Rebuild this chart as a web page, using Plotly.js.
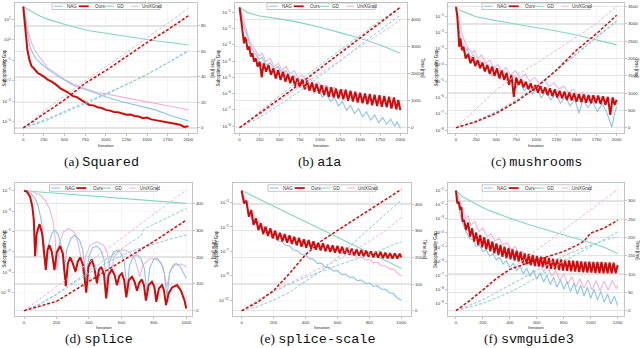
<!DOCTYPE html>
<html><head><meta charset="utf-8">
<script src="https://cdn.plot.ly/plotly-3.0.1.min.js"></script>
<style>html,body{margin:0;padding:0;background:#fff}#chart{width:640px;height:348px}</style>
</head><body><div id="chart"></div>
<script>
// ---------------- DATA ----------------
const methods = ['NAG', 'Ours', 'GD', 'UniXGrad'];
const captionTags = ['(a)', '(b)', '(c)', '(d)', '(e)', '(f)'];
const captionNames = ['Squared', 'a1a', 'mushrooms', 'splice', 'splice-scale', 'svmguide3'];

// (a) Squared
const aOursIt = [0,10,25,50,75,100,125,150,175,200,250,300,350,400,450,500,550,600,650,700,750,800,850,900,950,1000,1050,1100,1150,1200,1250,1300,1350,1400,1450,1500,1550,1600,1650,1700,1750,1800,1850,1900,1950,2000];
const aOursGap = [41.7,16,2.5,0.32,0.105,0.052,0.042,0.032,0.024,0.021,0.016,0.011,8.9e-3,6.3e-3,4.2e-3,3.3e-3,2.6e-3,1.8e-3,1.6e-3,1.17e-3,8.9e-4,6.6e-4,6.3e-4,5.1e-4,4.7e-4,3.8e-4,3.5e-4,3e-4,2.9e-4,2.6e-4,2.2e-4,2.24e-4,1.9e-4,1.8e-4,1.5e-4,1.6e-4,1.3e-4,1.2e-4,1.1e-4,1.02e-4,9.5e-5,9.1e-5,7.9e-5,7.1e-5,5.6e-5,6e-5];
const aGapIt = [0,10,25,50,75,100,150,200,250,300,400,500,600,700,800,900,1000,1200,1400,1600,1800,2000];
const aNagGap = [41.7,23.4,8.5,1.74,0.56,0.3,0.126,0.078,0.052,0.036,0.019,0.011,0.0063,0.0043,0.0033,0.0023,0.0016,9.5e-4,5.9e-4,3.8e-4,1.9e-4,1.1e-4];
const aUniGap = [41.7,28.8,13.5,3.6,1.41,0.72,0.26,0.14,0.071,0.041,0.023,0.0117,0.0071,0.0048,0.0035,0.0026,0.0023,0.0016,0.00117,7.9e-4,5.5e-4,3.8e-4];
const aGdIt = [0,100,200,300,400,500,600,800,1000,1200,1400,1600,1800,2000];
const aGdGap = [41.7,23.6,14.6,10,7.4,5.7,4.4,2.8,2.1,1.55,1.15,0.91,0.72,0.56];
const aTimeIt = [0,250,500,750,1000,1250,1500,1750,2000];
const aNagTime = [0,6,13,20,27,34,42,51,61];
const aOursTime = [0,11,22,35,45,56,67,77,88];
const aGdTime = [0,5,12,19,26,34,42,51,60];
const aUniTime = [0,13,25,37,48,59,71,82,94];
const aYTickExp = [1,0,-1,-2,-3,-4];

// (b) a1a
const bOursIt = [0,20,40,55,65,80,100,120,140,160,180,200,225,250,275,300,330,360,390,420,450,480,510,540,570,600,630,660,690,720,750,780,810,840,870,900,930,960,990,1020,1050,1080,1110,1140,1170,1200,1230,1260,1290,1320,1350,1380,1410,1440,1470,1500,1530,1560,1590,1620,1650,1680,1710,1740,1770,1800,1830,1860,1890,1920,1950,1975,2000];
const bOursGap = [0.2,0.034,3.2e-3,1.2e-3,2.9e-3,2e-3,4.8e-4,7.8e-4,1.9e-4,3e-4,9.1e-5,1.5e-4,4.5e-5,9.1e-5,1e-5,7.2e-5,2.2e-5,5.8e-5,1.4e-5,3.5e-5,8.5e-6,2.8e-5,6.8e-6,2.2e-5,5.4e-6,1.6e-5,4.3e-6,1.2e-5,2.9e-6,8.5e-6,2.4e-6,7.4e-6,1.8e-6,6.2e-6,1.5e-6,4.7e-6,1.3e-6,3.9e-6,1e-6,3.3e-6,8.1e-7,2.6e-6,6.3e-7,2.4e-6,5.8e-7,2e-6,5e-7,1.8e-6,4.4e-7,1.7e-6,3.6e-7,1.5e-6,3.2e-7,1.3e-6,2.8e-7,1.1e-6,2.5e-7,1e-6,2.2e-7,9.3e-7,1.9e-7,8.5e-7,1.7e-7,7.8e-7,1.5e-7,7.1e-7,1.4e-7,6.3e-7,1.2e-7,5.8e-7,1.05e-7,4e-7,9.5e-8];
const bNagIt = [0,20,40,70,100,130,160,200,240,280,330,380,430,480,530,580,630,680,730,780,830,880,930,980,1030,1080,1130,1180,1230,1280,1330,1380,1430,1480,1530,1580,1630,1680,1730,1780,1830,1880,1930,1960,2000];
const bNagGap = [0.2,0.069,0.021,8.1e-3,2.5e-3,9.8e-4,4.8e-4,2.7e-4,1.26e-4,1.7e-4,5.8e-5,7.9e-5,3.1e-5,4.5e-5,1.6e-5,2.6e-5,8.5e-6,1.3e-5,4.3e-6,6.8e-6,2e-6,3.3e-6,1e-6,1.8e-6,5.8e-7,1e-6,3.2e-7,5.8e-7,1.7e-7,3.2e-7,9.5e-8,1.9e-7,6e-8,1.2e-7,3.7e-8,7.6e-8,2.3e-8,4.8e-8,1.6e-8,3.4e-8,1.3e-8,2.6e-8,1e-8,1.8e-8,7.1e-9];
const bUniIt = [0,20,40,70,100,130,160,200,240,280,330,380,430,480,530,580,630,680,730,780,830,880,930,980,1030,1080,1130,1180,1230,1280,1330,1380,1430,1480,1530,1580,1630,1680,1730,1780,1830,1880,1930,1980,2000];
const bUniGap = [0.2,0.11,0.043,0.013,4e-3,1.55e-3,7.8e-4,4.4e-4,2e-4,3e-4,9.1e-5,1.5e-4,4.5e-5,7.2e-5,2.6e-5,4.5e-5,1.6e-5,2.6e-5,8.5e-6,1.4e-5,5.4e-6,8.1e-6,3.3e-6,5.1e-6,2.4e-6,3.3e-6,1.7e-6,2.4e-6,1.2e-6,1.7e-6,8.5e-7,1.2e-6,6.3e-7,8.9e-7,4.8e-7,6.6e-7,3.6e-7,5e-7,2.8e-7,4e-7,2.2e-7,3.2e-7,1.9e-7,2.6e-7,2e-7];
const bGdIt = [0,100,250,500,750,1000,1250,1500,1750,2000];
const bGdGap = [0.2,0.095,0.059,0.039,0.023,0.012,0.0056,0.0025,9.8e-4,3e-4];
const bTimeIt = [0,250,500,750,1000,1250,1500,1750,2000];
const bNagTime = [0,600,1180,1750,2300,2850,3400,3950,4450];
const bOursTime = [0,520,1070,1620,2180,2750,3300,3870,4440];
const bGdTime = [0,380,850,1350,1900,2450,3050,3600,4150];
const bUniTime = [0,480,1000,1500,2000,2480,2980,3480,3970];
const bYTickExp = [-1,-2,-3,-4,-5,-6,-7,-8];

// (c) mushrooms
const cOursIt = [0,15,30,40,55,75,95,120,150,180,210,240,270,300,330,360,390,420,450,480,510,540,570,600,630,660,690,720,750,780,810,840,870,900,930,960,990,1020,1050,1080,1110,1140,1170,1200,1230,1260,1290,1320,1350,1380,1410,1440,1470,1500,1530,1560,1590,1620,1650,1680,1710,1740,1770,1800,1830,1860,1890,1920,1950,1975,2000];
const cOursGap = [0.37,0.115,0.011,1.3e-3,4.3e-3,8.1e-4,1.3e-3,2.5e-4,4.7e-4,1.26e-4,2.9e-4,8.5e-5,2e-4,6.2e-5,1.4e-4,4e-5,1e-4,2.8e-5,7.8e-5,2.1e-5,6.2e-5,1.5e-5,4.5e-5,1.2e-5,3.3e-5,5.9e-6,2.4e-5,1.1e-6,1.7e-5,5.9e-6,1.3e-5,4.2e-6,9.3e-6,3.2e-6,7.4e-6,2.6e-6,5.9e-6,2e-6,5.1e-6,1.8e-6,4.2e-6,1.4e-6,3.6e-6,1.2e-6,3.2e-6,1e-6,2.6e-6,8.9e-7,2.3e-6,7.1e-7,2e-6,6.5e-7,1.8e-6,5.5e-7,1.6e-6,5.2e-7,1.5e-6,4.8e-7,1.4e-6,4.4e-7,1.35e-6,4.4e-7,1.3e-6,4e-7,1.2e-6,3.5e-7,1.1e-6,8.5e-8,1e-6,3.5e-7,7.1e-7];
const cNagIt = [0,15,30,50,80,110,140,180,220,260,300,350,400,450,500,550,600,650,700,750,800,850,900,950,1000,1060,1120,1180,1240,1300,1360,1420,1480,1530,1580,1640,1700,1760,1820,1880,1940,1970,2000];
const cNagGap = [0.37,0.145,0.035,5.4e-3,8.1e-4,5.6e-4,1.05e-3,2.9e-4,4.1e-4,9.8e-5,1.7e-4,4.5e-5,7.8e-5,2.1e-5,4.5e-5,1.3e-5,2.4e-5,7.4e-6,1.3e-5,4.2e-6,8.1e-6,2.6e-6,5.1e-6,1.6e-6,3.5e-6,1e-6,2.3e-6,7.1e-7,1.6e-6,4.4e-7,1.1e-6,3e-7,7.8e-7,1.1e-7,7.1e-7,2.5e-7,5.5e-7,1.35e-7,4.4e-7,1.1e-7,1.5e-8,8.5e-8,2.8e-7];
const cUniIt = [0,15,30,50,80,110,140,170,200,230,270,320,370,420,470,520,570,620,680,740,800,860,920,980,1040,1100,1160,1220,1280,1340,1400,1460,1520,1580,1640,1700,1760,1820,1880,1940,2000];
const cUniGap = [0.37,0.21,0.091,0.028,6.8e-3,2.7e-3,1.3e-3,8.1e-4,5.1e-4,8.1e-4,2.5e-4,4.1e-4,1.26e-4,2e-4,6.2e-5,1.07e-4,3.8e-5,6.8e-5,2.4e-5,4.5e-5,1.5e-5,2.8e-5,9.3e-6,1.7e-5,6.8e-6,1.2e-5,4.6e-6,8.1e-6,3.2e-6,5.1e-6,2e-6,3.2e-6,1.2e-6,2e-6,8.9e-7,1.4e-6,7.1e-7,1.1e-6,5.5e-7,8.9e-7,7.1e-7];
const cGdIt = [0,50,100,250,500,750,1000,1250,1500,1750,2000];
const cGdGap = [0.34,0.23,0.18,0.091,0.052,0.032,0.02,0.012,6.8e-3,3.4e-3,1.7e-3];
const cTimeIt = [0,250,500,750,1000,1250,1500,1750,2000];
const cNagTime = [0,200,460,800,1200,1663,2144,2625,3106];
const cOursTime = [0,173,413,750,1163,1663,2240,2720,3250];
const cGdTime = [0,190,450,790,1190,1650,2120,2600,3060];
const cUniTime = [0,560,1090,1520,1860,2240,2625,3010,3510];
const cYTickExp = [-1,-2,-3,-4,-5,-6,-7,-8];

// (d) splice
const dOursIt = [0,16,37,51,60,68,78,95,111,121,134,144,156,171,187,202,222,239,257,270,284,300,317,331,346,364,383,397,416,432,449,461,475,492,506,521,541,558,572,587,603,617,630,646,665,681,696,710,726,739,751,768,788,803,815,831,850,862,875,891,912,943,967,988,1000];
const dOursGap = [0.1,0.085,0.026,2.7e-3,1.3e-4,3.9e-8,6.6e-6,5.4e-5,6.6e-6,3.2e-7,1.7e-9,1.5e-7,4.7e-7,1e-7,1.7e-9,1e-7,3.8e-7,7.2e-8,4.5e-11,7.6e-9,2.9e-8,7.6e-9,1.15e-9,1.1e-8,2.9e-8,5.1e-9,1e-11,3.5e-9,1.9e-8,3.5e-9,8.3e-11,1.7e-9,3.5e-9,7.9e-10,2.8e-12,5.4e-10,1.9e-9,5.4e-10,5.6e-11,4.3e-10,7.9e-10,1.7e-10,3.5e-12,1.7e-10,3.7e-10,1.2e-10,1.6e-11,9.5e-11,2e-10,5.6e-11,1.7e-12,5.6e-11,1.2e-10,3.9e-11,1.3e-12,2.6e-11,5.6e-11,1.8e-11,6.2e-13,8.5e-12,3.3e-11,5.6e-11,1.6e-11,1.9e-12,2.9e-13];
const dNagIt = [0,37,68,88,109,123,136,150,171,191,212,228,247,263,288,315,342,362,383,399,424,449,473,494,510,527,552,576,601,619,634,650,675,696,720,741,757,774,799,819,844,864,881,897,918,938,963,984,1000];
const dNagGap = [0.1,0.063,0.018,2.7e-3,6.3e-5,6.9e-7,1.7e-9,4.7e-7,6.6e-6,1.4e-5,4.5e-6,4.7e-7,1.15e-9,1.5e-7,2.1e-6,4.5e-6,1.4e-6,1.5e-7,1.7e-10,3.4e-8,2.8e-7,3.8e-7,1.5e-7,1.6e-8,5.6e-11,1.1e-8,1e-7,1.5e-7,6.2e-8,7.6e-9,1.8e-11,5.1e-9,3.9e-8,5.4e-8,2.3e-8,2.5e-9,8.5e-12,2.5e-9,1.9e-8,2.3e-8,8.7e-9,7.9e-10,4.1e-12,7.9e-10,5.1e-9,7.6e-9,3.5e-9,7.9e-10,2.6e-10];
const dUniIt = [0,58,99,130,156,177,191,202,218,243,274,305,329,350,362,379,407,449,490,514,535,556,589,624,654,685,712,733,768,799,829,856,881,901,932,967,1000];
const dUniGap = [0.1,0.074,0.038,0.012,1.9e-3,1.3e-4,3.1e-6,1.7e-9,6.9e-7,9.5e-6,2e-5,9.5e-6,1.4e-6,3.4e-8,7.9e-10,3.4e-8,4.7e-7,1e-6,4.7e-7,7.2e-8,7.9e-10,3.4e-8,1.5e-7,1.5e-7,7.2e-8,1.6e-8,3.7e-10,5.1e-9,1.9e-8,2.3e-8,1.4e-8,3.5e-9,3.9e-11,1.7e-9,5.1e-9,6.5e-9,3.5e-9];
const dGdIt = [0,250,500,750,1000];
const dGdGap = [0.1,0.049,0.024,0.0117,5.8e-3];
const dTimeIt = [0,100,200,300,400,500,600,700,720,740,800,900,1000];
const dNagTime = [0,25,60,100,140,175,205,230,234,238,250,267,282];
const dOursTime = [0,18,35,72,110,148,185,222,229,236,258,297,338];
const dGdTime = [0,25,62,105,150,190,230,272,280,305,322,352,381];
const dUniTime = [0,45,90,135,180,225,270,315,324,333,360,405,450];
const dYTickExp = [-1,-3,-5,-7,-9,-11];

// (e) splice-scale
const eOursIt = [0,15,30,45,60,75,90,105,120,135,150,165,180,195,210,225,240,255,270,285,300,315,330,345,360,375,390,405,420,435,450,465,480,495,510,525,540,555,570,585,600,615,630,645,660,675,690,705,720,735,750,765,780,795,810,825,840,855,870,885,900,915,930,945,960,975,990,1000];
const eOursGap = [9.8e-3,8.9e-4,1.45e-3,7.1e-5,2.5e-4,1.45e-5,5.1e-5,5.6e-6,2e-5,2.6e-6,1.07e-5,1.8e-6,7.8e-6,1.17e-6,5e-6,8.5e-7,3.4e-6,6.6e-7,2.6e-6,5.1e-7,2.1e-6,4e-7,1.6e-6,3.1e-7,1.26e-6,2.4e-7,9.8e-7,2e-7,8.5e-7,1.66e-7,6.6e-7,1.38e-7,5.1e-7,1.2e-7,4.6e-7,1e-7,3.5e-7,8.9e-8,3.1e-7,7.8e-8,2.8e-7,6.9e-8,2.4e-7,6e-8,1.9e-7,5.4e-8,1.66e-7,4.7e-8,1.45e-7,4.4e-8,1.29e-7,3.9e-8,1.12e-7,3.6e-8,1e-7,3.2e-8,9.3e-8,3e-8,8.9e-8,2.8e-8,7.8e-8,2.6e-8,7.2e-8,2.5e-8,6.9e-8,2.5e-8,6.5e-8,3.2e-8];
const eNagIt = [0,15,30,45,60,80,100,125,150,175,200,225,250,275,300,325,350,375,400,425,450,475,500,525,550,575,600,625,650,675,700,725,750,775,800,825,850,875,900,925,950,975,1000];
const eNagGap = [9.8e-3,2.3e-3,6.4e-4,1.3e-4,5.1e-5,2.3e-5,1.45e-5,6.5e-6,3.9e-6,1.8e-6,1.4e-6,7.6e-7,6.2e-7,3.1e-7,2.8e-7,1.29e-7,1.12e-7,5.4e-8,5e-8,2.5e-8,2.2e-8,1.03e-8,1.03e-8,4.8e-9,4.8e-9,2.4e-9,2.6e-9,1.29e-9,1.38e-9,7.2e-10,7.8e-10,3.9e-10,4.4e-10,2.3e-10,2.6e-10,1.3e-10,1.5e-10,7.6e-11,8e-11,4e-11,3.5e-11,1.4e-11,1e-11];
const eUniIt = [0,15,30,45,60,75,90,110,130,150,175,200,225,250,275,300,325,350,375,400,425,450,475,500,525,550,575,600,625,650,675,700,725,750,775,800,825,850,875,900,925,950,975,1000];
const eUniGap = [9.8e-3,3.5e-3,8.9e-4,1.5e-4,7.1e-5,9.8e-5,2e-5,2.8e-5,6.5e-6,9.3e-6,3e-6,4.2e-6,2.1e-6,2.6e-6,1.4e-6,1.8e-6,9.8e-7,1.17e-6,6.2e-7,7.6e-7,4e-7,4.6e-7,2.4e-7,2.9e-7,1.66e-7,2e-7,1.12e-7,1.29e-7,7.8e-8,8.9e-8,5e-8,5.6e-8,3.2e-8,3.6e-8,1.95e-8,2.2e-8,1.17e-8,1.26e-8,6.6e-9,6.6e-9,3.8e-9,3.3e-9,1.8e-9,9.3e-10];
const eGdIt = [0,250,500,750,1000];
const eGdGap = [9.8e-3,2.5e-4,6.2e-6,1.6e-7,4e-9];
const eTimeIt = [0,100,200,300,400,500,600,700,800,900,1000];
const eNagTime = [0,15,40,70,110,150,200,255,310,362,415];
const eOursTime = [0,32,75,140,210,262,301,339,378,416,455];
const eGdTime = [0,40,70,100,125,148,170,190,210,235,259];
const eUniTime = [0,40,75,105,135,162,190,225,260,300,350];
const eYTickExp = [-3,-5,-7,-9,-11];

// (f) svmguide3
const fOursIt = [0,10,20,30,40,50,60,75,90,105,120,135,150,165,180,195,210,225,240,255,270,285,300,315,330,345,360,375,390,405,420,435,450,465,480,495,510,525,540,555,570,585,600,615,630,645,660,675,690,705,720,735,750,765,780,795,810,825,840,855,870,885,900,915,930,945,960,975,990,1005,1020,1035,1050,1065,1080,1095,1110,1125,1140,1155,1170,1185,1200];
const fOursGap = [0.1,0.0126,0.0166,5.6e-3,6.6e-3,6.3e-4,8.3e-4,1.6e-4,5.4e-4,5.4e-5,2.1e-4,2.4e-5,1.05e-4,1.38e-5,7.1e-5,9.5e-6,4.9e-5,6.8e-6,3.5e-5,4.9e-6,2.5e-5,3.5e-6,1.8e-5,2.7e-6,1.38e-5,2e-6,1.05e-5,1.58e-6,8.5e-6,1.32e-6,6.8e-6,1.07e-6,5.5e-6,9.1e-7,4.7e-6,6.9e-7,3.5e-6,5.9e-7,3.2e-6,5e-7,2.7e-6,4.5e-7,2.3e-6,4e-7,2e-6,3.6e-7,1.86e-6,3.1e-7,1.66e-6,2.8e-7,1.48e-6,2.6e-7,1.41e-6,2.3e-7,1.32e-6,2.1e-7,1.2e-6,2e-7,1.12e-6,1.9e-7,1.07e-6,1.78e-7,1.02e-6,1.66e-7,9.5e-7,1.58e-7,9.1e-7,1.5e-7,9.1e-7,1.5e-7,8.5e-7,1.41e-7,8.5e-7,1.41e-7,8.5e-7,1.35e-7,8.1e-7,1.35e-7,8.1e-7,1.35e-7,7.8e-7,1.35e-7,5.2e-7];
const fNagIt = [0,10,20,35,50,75,100,125,150,175,200,225,250,275,300,325,350,375,400,425,450,475,500,525,550,575,600,625,650,675,700,725,750,775,800,825,850,875,900,925,950,975,1000,1025,1050,1075,1100,1125,1150,1175,1200];
const fNagGap = [0.1,0.022,7.3e-3,1.4e-3,4.8e-4,1.23e-4,4.1e-5,3.2e-5,1.05e-5,1.3e-5,4.7e-6,6.2e-6,2.3e-6,3.2e-6,1.2e-6,1.86e-6,6.2e-7,1.07e-6,3.6e-7,6.9e-7,2.1e-7,4.5e-7,1.2e-7,3.2e-7,7.8e-8,2.3e-7,5e-8,1.5e-7,3.2e-8,1.02e-7,2.1e-8,7.1e-8,1.38e-8,5e-8,9.8e-9,3.5e-8,6.8e-9,2.6e-8,4.6e-9,1.9e-8,3.3e-9,1.38e-8,2.3e-9,9.8e-9,1.74e-9,7.1e-9,1.23e-9,4.6e-9,8.9e-10,3.3e-9,6.5e-10];
const fUniIt = [0,15,30,50,70,90,110,140,170,200,230,260,290,320,350,380,410,440,470,500,530,560,590,620,650,680,710,740,770,800,830,860,890,920,950,980,1010,1040,1070,1100,1130,1160,1190,1200];
const fUniGap = [0.1,0.049,0.0166,4.3e-3,1.1e-3,1.6e-3,3.6e-4,6.3e-4,1.23e-4,2.1e-4,5.4e-5,8.3e-5,2.8e-5,4.1e-5,1.38e-5,2e-5,6.2e-6,1.05e-5,2.7e-6,4.7e-6,1.07e-6,2e-6,4e-7,8.5e-7,1.78e-7,4e-7,8.7e-8,2.1e-7,4.6e-8,1.2e-7,2.3e-8,7.8e-8,1.5e-8,5.6e-8,1.17e-8,4.6e-8,8.9e-9,4.1e-8,7.9e-9,3.9e-8,8.9e-9,4.1e-8,1.1e-8,2e-8];
const fGdIt = [0,50,150,250,400,550,700,850,1000,1100,1200];
const fGdGap = [0.1,0.037,0.0107,3.8e-3,1.1e-3,3.6e-4,1.38e-4,5.4e-5,2e-5,9.5e-6,3.5e-6];
const fTimeIt = [0,100,200,300,400,500,600,700,800,900,950,1000,1100,1200];
const fNagTime = [0,15,30,50,70,90,110,130,150,165,172,180,192,202];
const fOursTime = [0,27,57,88,113,127,139,150,162,179,190,212,226,247];
const fGdTime = [0,10,20,35,50,70,90,112,135,155,165,175,195,215];
const fUniTime = [0,28,55,83,110,138,166,193,221,248,262,276,303,331];
const fYTickExp = [-1,-2,-3,-4,-5,-6,-7,-8,-9];

// ---------------- LAYOUT / STYLE ----------------
const W = 640, H = 348;
const colors = {NAG: '#8fc3e4', Ours: '#d20a0a', GD: '#86d4bf', UniXGrad: '#f0b4db'};
const FONT = 'Liberation Sans, DejaVu Sans, Arial, sans-serif';

const panels = [
  {box: [15, 197, 3, 133], xr: [-100, 2105], xd: 250, yr: [-4.55, 1.8], y2r: [-4, 98], y2d: 20,
   exps: aYTickExp, lt: 3.5, rt: 213, cap: [101.5, 161.5], legTop: 3, itOff: 12,
   gap: {NAG: [aGapIt, aNagGap], Ours: [aOursIt, aOursGap], GD: [aGdIt, aGdGap], UniXGrad: [aGapIt, aUniGap]},
   time: [aTimeIt, {NAG: aNagTime, Ours: aOursTime, GD: aGdTime, UniXGrad: aUniTime}]},
  {box: [235, 407, 3, 133], xr: [-57, 2083], xd: 250, yr: [-8.43, -0.43], y2r: [-196, 4600], y2d: 1000,
   exps: bYTickExp, lt: 217.5, rt: 423, cap: [319, 161.5], legTop: 3, itOff: 12,
   gap: {NAG: [bNagIt, bNagGap], Ours: [bOursIt, bOursGap], GD: [bGdIt, bGdGap], UniXGrad: [bUniIt, bUniGap]},
   time: [bTimeIt, {NAG: bNagTime, Ours: bOursTime, GD: bGdTime, UniXGrad: bUniTime}]},
  {box: [448, 624, 3, 133], xr: [-99, 2091], xd: 250, yr: [-8.18, -0.2], y2r: [-153, 3604], y2d: 500,
   exps: cYTickExp, lt: 435.5, rt: 637, cap: [536, 161.5], legTop: 3, itOff: 12,
   gap: {NAG: [cNagIt, cNagGap], Ours: [cOursIt, cOursGap], GD: [cGdIt, cGdGap], UniXGrad: [cUniIt, cUniGap]},
   time: [cTimeIt, {NAG: cNagTime, Ours: cOursTime, GD: cGdTime, UniXGrad: cUniTime}]},
  {box: [15, 192, 183.3, 315.7], xr: [-56, 1035], xd: 200, yr: [-13.25, -0.27], y2r: [-18.7, 475], y2d: 100,
   exps: dYTickExp, lt: 4, rt: 213, cap: [99, 339], legTop: 184.8, itOff: 11.3,
   gap: {NAG: [dNagIt, dNagGap], Ours: [dOursIt, dOursGap], GD: [dGdIt, dGdGap], UniXGrad: [dUniIt, dUniGap]},
   time: [dTimeIt, {NAG: dNagTime, Ours: dOursTime, GD: dGdTime, UniXGrad: dUniTime}]},
  {box: [233, 411, 183.3, 315.7], xr: [-54, 1061], xd: 200, yr: [-12.29, -1.41], y2r: [-18.7, 478], y2d: 100,
   exps: eYTickExp, lt: 216, rt: 424, cap: [318, 339], legTop: 184.8, itOff: 11.3,
   gap: {NAG: [eNagIt, eNagGap], Ours: [eOursIt, eOursGap], GD: [eGdIt, eGdGap], UniXGrad: [eUniIt, eUniGap]},
   time: [eTimeIt, {NAG: eNagTime, Ours: eOursTime, GD: eGdTime, UniXGrad: eUniTime}]},
  {box: [448, 624, 183.3, 315.7], xr: [-59, 1247], xd: 200, yr: [-9.88, -0.48], y2r: [-13.7, 348], y2d: 50,
   exps: fYTickExp, lt: 435.5, rt: 637.5, cap: [529, 339], legTop: 184.8, itOff: 11.3,
   gap: {NAG: [fNagIt, fNagGap], Ours: [fOursIt, fOursGap], GD: [fGdIt, fGdGap], UniXGrad: [fUniIt, fUniGap]},
   time: [fTimeIt, {NAG: fNagTime, Ours: fOursTime, GD: fGdTime, UniXGrad: fUniTime}]}
];

const px = p => p / W;
const py = p => 1 - p / H;
const supText = e => '10<sup>' + (e < 0 ? '\u2212' + (-e) : String(e)) + '</sup>';

const traces = [];
const layout = {
  width: W, height: H, margin: {l: 0, r: 0, t: 0, b: 0},
  paper_bgcolor: '#fff', plot_bgcolor: '#fff', showlegend: false,
  font: {family: FONT, size: 4.4, color: '#333'},
  shapes: [], annotations: []
};
const tickFont = {family: FONT, size: 4.4, color: '#3a3a3a'};

panels.forEach((p, i) => {
  const xa = i === 0 ? 'x' : 'x' + (i + 1);
  const yl = (2 * i + 1) === 1 ? 'y' : 'y' + (2 * i + 1);
  const yr = 'y' + (2 * i + 2);
  const xKey = 'xaxis' + (i === 0 ? '' : i + 1);
  const ylKey = 'yaxis' + ((2 * i + 1) === 1 ? '' : 2 * i + 1);
  const yrKey = 'yaxis' + (2 * i + 2);
  const [x0, x1, y0, y1] = p.box;

  layout[xKey] = {
    domain: [px(x0), px(x1)], anchor: yl, range: p.xr, dtick: p.xd, tick0: 0,
    showgrid: true, gridcolor: '#efefef', gridwidth: 0.6, zeroline: false,
    showline: true, mirror: true, linecolor: '#c4c4c4', linewidth: 1.4,
    ticks: 'outside', ticklen: 1.5, tickwidth: 0.6, tickcolor: '#999', tickfont: tickFont
  };
  layout[ylKey] = {
    domain: [py(y1), py(y0)], anchor: xa, type: 'log', range: p.yr,
    tickmode: 'array', tickvals: p.exps.map(e => Math.pow(10, e)), ticktext: p.exps.map(supText),
    showgrid: true, gridcolor: '#f1f1f1', gridwidth: 0.6, zeroline: false,
    showline: true, mirror: true, linecolor: '#c4c4c4', linewidth: 1.4,
    ticks: 'outside', ticklen: 2, tickwidth: 0.6, tickcolor: '#999', tickfont: tickFont
  };
  layout[yrKey] = {
    overlaying: yl, side: 'right', anchor: xa, range: p.y2r, dtick: p.y2d, tick0: 0,
    showgrid: true, gridcolor: '#e4e4e4', gridwidth: 1.3, zeroline: false, showline: false,
    exponentformat: 'none', ticks: 'outside', ticklen: 2, tickwidth: 0.6, tickcolor: '#999', tickfont: tickFont
  };

  // time (dashed, right axis)
  ['GD', 'NAG', 'UniXGrad', 'Ours'].forEach(m => {
    traces.push({
      x: p.time[0], y: p.time[1][m], xaxis: xa, yaxis: yr, type: 'scatter', mode: 'lines',
      name: m + ' time', showlegend: false, hoverinfo: 'skip',
      line: {color: colors[m], width: m === 'Ours' ? 1.5 : 1, dash: '3px,1.8px'}
    });
  });
  // gap (solid, left log axis)
  ['GD', 'UniXGrad', 'NAG', 'Ours'].forEach(m => {
    traces.push({
      x: p.gap[m][0], y: p.gap[m][1], xaxis: xa, yaxis: yl, type: 'scatter', mode: 'lines',
      name: m, showlegend: false, hoverinfo: 'skip',
      line: {color: colors[m], width: m === 'Ours' ? 2 : 1.1}
    });
  });

  // legend box (drawn as shapes + text so that it is as compact as the original)
  const cx = (x0 + x1) / 2, bw = 108, bh = 6.5, bl = cx - bw / 2, bt = p.legTop;
  layout.shapes.push({type: 'rect', xref: 'paper', yref: 'paper', x0: px(bl), x1: px(bl + bw), y0: py(bt + bh), y1: py(bt),
    line: {color: '#a0a0a0', width: 0.6}, fillcolor: '#ffffff', layer: 'above'});
  const segs = [[1.7, 10.7], [26.7, 36.7], [52.7, 61.7], [79.3, 86.7]];
  const txs = [13.0, 41.2, 63.3, 88.3];
  methods.forEach((m, k) => {
    layout.shapes.push({type: 'line', xref: 'paper', yref: 'paper', x0: px(bl + segs[k][0]), x1: px(bl + segs[k][1]),
      y0: py(bt + bh / 2), y1: py(bt + bh / 2), line: {color: colors[m], width: m === 'Ours' ? 1.8 : 1.1}, layer: 'above'});
    layout.annotations.push({xref: 'paper', yref: 'paper', x: px(bl + txs[k]), y: py(bt + bh / 2), text: m,
      showarrow: false, xanchor: 'left', yanchor: 'middle', font: {family: FONT, size: 4.5, color: '#333'}});
  });

  // axis titles
  layout.annotations.push({xref: 'paper', yref: 'paper', x: px(p.lt), y: py((y0 + y1) / 2), text: 'Suboptimality Gap',
    textangle: -90, showarrow: false, xanchor: 'center', yanchor: 'middle', font: {family: FONT, size: 4.5, color: '#222'}});
  layout.annotations.push({xref: 'paper', yref: 'paper', x: px(p.rt), y: py((y0 + y1) / 2), text: 'Time [ms]',
    textangle: 90, showarrow: false, xanchor: 'center', yanchor: 'middle', font: {family: FONT, size: 4.5, color: '#222'}});
  layout.annotations.push({xref: 'paper', yref: 'paper', x: px((x0 + x1) / 2), y: py(y1 + p.itOff), text: 'Iteration',
    showarrow: false, xanchor: 'center', yanchor: 'middle', borderpad: 0, font: {family: FONT, size: 4.3, color: '#222'}});

  // caption
  layout.annotations.push({xref: 'paper', yref: 'paper', x: px(p.cap[0]), y: py(p.cap[1]),
    text: captionTags[i] + ' <span style="font-family:Liberation Mono, DejaVu Sans Mono, monospace">' + captionNames[i] + '</span>',
    showarrow: false, xanchor: 'center', yanchor: 'middle', borderpad: 0,
    font: {family: 'Liberation Serif, DejaVu Serif, serif', size: 13.5, color: '#111'}});
});

Plotly.newPlot('chart', traces, layout, {staticPlot: true, displayModeBar: false});
</script>
</body></html>
